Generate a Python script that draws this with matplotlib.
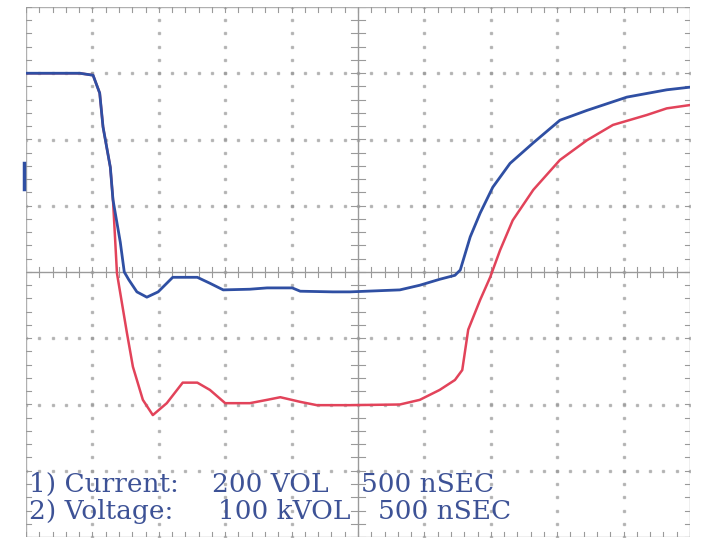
import matplotlib.pyplot as plt
import numpy as np

# --- Trace data (screen divisions: 10 x 8, 500 nsec per division) ---
blue_t = [0, 0.81, 1.01, 1.11, 1.16, 1.27, 1.31, 1.42, 1.48, 1.55, 1.67, 1.82,
          1.99, 2.21, 2.58, 2.77, 2.97, 3.37, 3.63, 4.01, 4.13, 4.62, 4.88,
          5.63, 5.93, 6.23, 6.46, 6.54, 6.69, 6.84, 7.03, 7.29, 7.64, 8.04,
          8.45, 9.05, 9.65, 10.0]
blue_v = [3.0, 3.0, 2.97, 2.70, 2.19, 1.58, 1.09, 0.45, 0.0, -0.12, -0.30, -0.38,
          -0.30, -0.08, -0.08, -0.17, -0.27, -0.26, -0.24, -0.24, -0.29, -0.30, -0.30,
          -0.27, -0.20, -0.11, -0.05, 0.03, 0.53, 0.89, 1.28, 1.64, 1.95, 2.29,
          2.44, 2.64, 2.75, 2.79]

red_t = [0, 0.81, 1.01, 1.11, 1.16, 1.27, 1.31, 1.37, 1.52, 1.61, 1.76, 1.91,
         2.12, 2.36, 2.58, 2.77, 3.0, 3.37, 3.63, 3.83, 4.13, 4.38, 4.88, 5.63,
         5.93, 6.23, 6.46, 6.57, 6.66, 6.84, 6.99, 7.14, 7.33, 7.64, 8.04, 8.45,
         8.84, 9.35, 9.65, 10.0]
red_v = [3.0, 3.0, 2.97, 2.70, 2.19, 1.58, 1.09, -0.02, -0.92, -1.43, -1.93, -2.16,
         -1.98, -1.67, -1.67, -1.78, -1.98, -1.98, -1.93, -1.89, -1.96, -2.01, -2.01, -2.0,
         -1.93, -1.78, -1.63, -1.48, -0.87, -0.42, -0.08, 0.33, 0.78, 1.24, 1.69, 1.99,
         2.22, 2.37, 2.47, 2.52]

labels = [("1) Current:", "200 VOL", "500 nSEC"),
          ("2) Voltage:", "100 kVOL", "500 nSEC")]

grid_col = "#9a9a9a"
blue = "#2f4fa3"
red = "#e2435a"
txt_col = "#3d5296"

fig = plt.figure(figsize=(7.02, 5.41), dpi=100)
ax = fig.add_axes([26 / 702, 4 / 541, 664 / 702, 530 / 541])
ax.set_xlim(0, 10)
ax.set_ylim(-4, 4)
ax.axis("off")

# --- graticule: dotted grid lines ---
minor = np.arange(0, 10.01, 0.2)
minor_y = np.arange(-4, 4.01, 0.2)
for gx in range(1, 10):
    if gx == 5:
        continue
    ax.plot([gx] * len(minor_y), minor_y, ls="none", marker="s", ms=1.6,
            color=grid_col, alpha=0.6)
for gy in range(-3, 4):
    if gy == 0:
        continue
    ax.plot(minor, [gy] * len(minor), ls="none", marker="s", ms=1.6,
            color=grid_col, alpha=0.6)

# centre axes with ticks
ax.plot([0, 10], [0, 0], color=grid_col, lw=1)
ax.plot([5, 5], [-4, 4], color=grid_col, lw=1)
for m in minor:
    ax.plot([m, m], [-0.08, 0.08], color=grid_col, lw=0.8)
for m in minor_y:
    ax.plot([4.9, 5.1], [m, m], color=grid_col, lw=0.8)

# border with ticks
ax.plot([0, 10, 10, 0, 0], [-4, -4, 4, 4, -4], color="#b0b0b0", lw=1)
for m in minor:
    ax.plot([m, m], [4, 3.92], color=grid_col, lw=0.8)
    ax.plot([m, m], [-4, -3.92], color=grid_col, lw=0.8)
for m in minor_y:
    ax.plot([0, 0.08], [m, m], color=grid_col, lw=0.8)
    ax.plot([10, 9.92], [m, m], color=grid_col, lw=0.8)

# channel marker
ax.plot([-0.03, -0.03], [1.25, 1.65], color=blue, lw=2.5, clip_on=False)

# --- traces ---
ax.plot(red_t, red_v, color=red, lw=1.8)
ax.plot(blue_t, blue_v, color=blue, lw=2.0)

# --- labels ---
ys = [-3.21, -3.62]
xs = [(0.04, 2.8, 5.05), (0.04, 2.89, 5.3)]
for (a, b, c), y, (xa, xb, xc) in zip(labels, ys, xs):
    for s, x in zip((a, b, c), (xa, xb, xc)):
        ax.text(x, y, s, color=txt_col, fontsize=19, family="DejaVu Serif",
                va="center", ha="left")

fig.savefig("out.png", dpi=100)
